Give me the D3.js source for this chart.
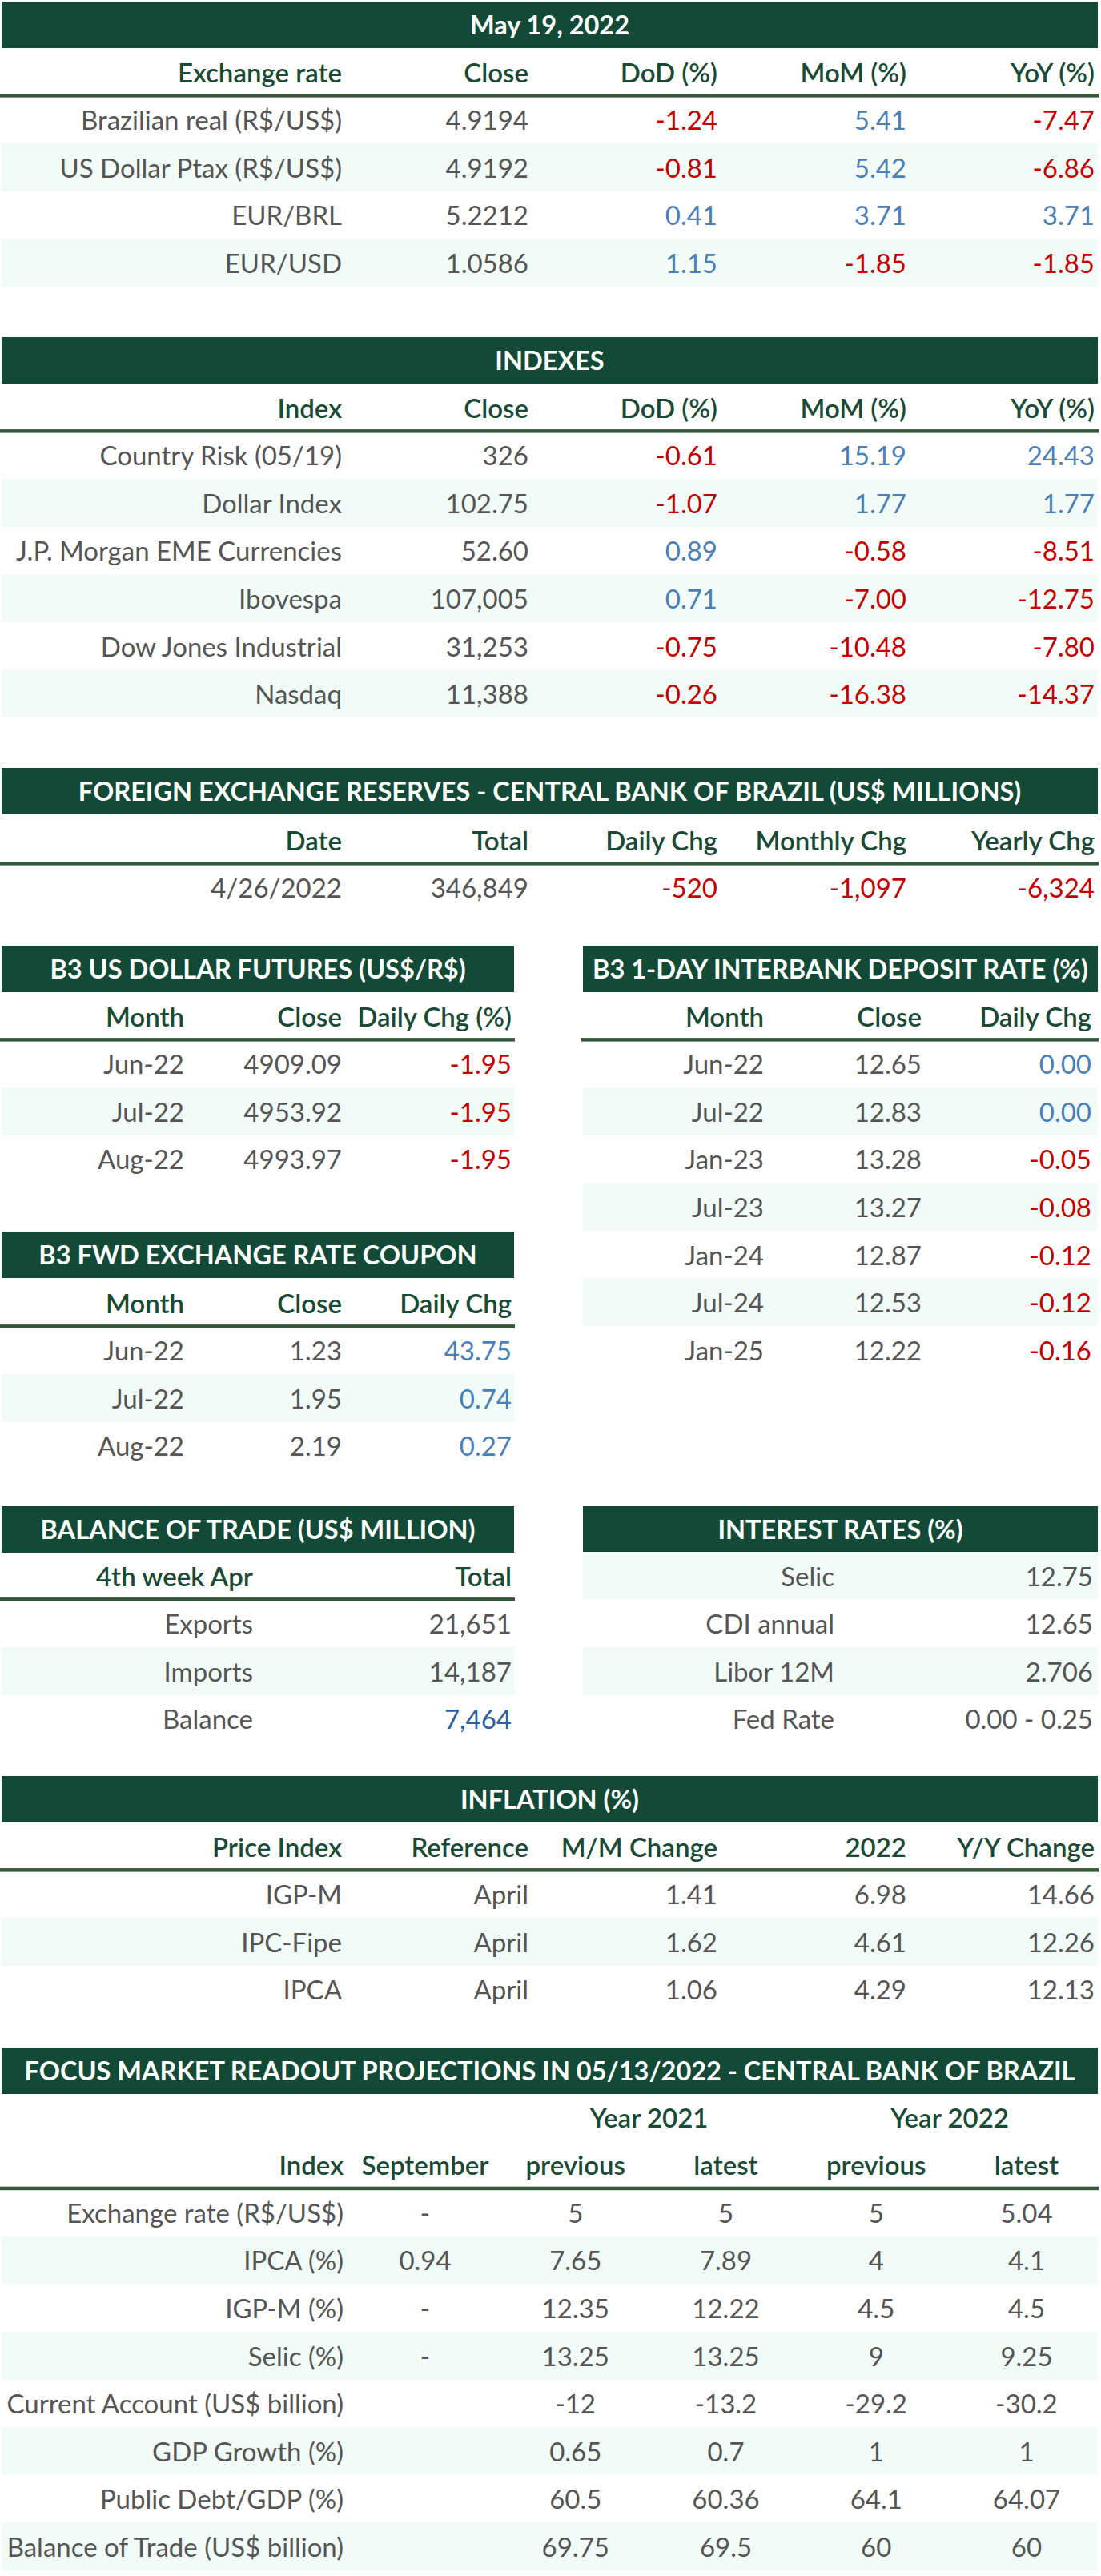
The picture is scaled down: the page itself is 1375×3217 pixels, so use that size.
<!DOCTYPE html>
<html>
<head>
<meta charset="utf-8">
<script src="https://cdn.jsdelivr.net/npm/d3@7"></script>
<style>
  body { margin: 0; background: #fff; }
  svg text { font-family: Lato, "Open Sans", sans-serif; }
</style>
</head>
<body>
<div id="chart"></div>
<script>
// ---- data ----
const reportDate = "May 19, 2022";

const exchangeCols = ["Exchange rate", "Close", "DoD (%)", "MoM (%)", "YoY (%)"];
const exchangeNames = ["Brazilian real (R$/US$)", "US Dollar Ptax (R$/US$)", "EUR/BRL", "EUR/USD"];
const exchangeClose = ["4.9194", "4.9192", "5.2212", "1.0586"];
const exchangeDoD = [-1.24, -0.81, 0.41, 1.15];
const exchangeMoM = [5.41, 5.42, 3.71, -1.85];
const exchangeYoY = [-7.47, -6.86, 3.71, -1.85];

const indexCols = ["Index", "Close", "DoD (%)", "MoM (%)", "YoY (%)"];
const indexNames = ["Country Risk (05/19)", "Dollar Index", "J.P. Morgan EME Currencies", "Ibovespa", "Dow Jones Industrial", "Nasdaq"];
const indexClose = ["326", "102.75", "52.60", "107,005", "31,253", "11,388"];
const indexDoD = [-0.61, -1.07, 0.89, 0.71, -0.75, -0.26];
const indexMoM = [15.19, 1.77, -0.58, -7.00, -10.48, -16.38];
const indexYoY = [24.43, 1.77, -8.51, -12.75, -7.80, -14.37];

const reserveCols = ["Date", "Total", "Daily Chg", "Monthly Chg", "Yearly Chg"];
const reserveDates = ["4/26/2022"];
const reserveTotal = [346849];
const reserveDaily = [-520];
const reserveMonthly = [-1097];
const reserveYearly = [-6324];

const futuresCols = ["Month", "Close", "Daily Chg (%)"];
const futuresMonths = ["Jun-22", "Jul-22", "Aug-22"];
const futuresClose = [4909.09, 4953.92, 4993.97];
const futuresChg = [-1.95, -1.95, -1.95];

const diCols = ["Month", "Close", "Daily Chg"];
const diMonths = ["Jun-22", "Jul-22", "Jan-23", "Jul-23", "Jan-24", "Jul-24", "Jan-25"];
const diClose = [12.65, 12.83, 13.28, 13.27, 12.87, 12.53, 12.22];
const diChg = [0.00, 0.00, -0.05, -0.08, -0.12, -0.12, -0.16];

const couponCols = ["Month", "Close", "Daily Chg"];
const couponMonths = ["Jun-22", "Jul-22", "Aug-22"];
const couponClose = [1.23, 1.95, 2.19];
const couponChg = [43.75, 0.74, 0.27];

const tradeCols = ["4th week Apr", "Total"];
const tradeNames = ["Exports", "Imports", "Balance"];
const tradeTotal = [21651, 14187, 7464];

const rateNames = ["Selic", "CDI annual", "Libor 12M", "Fed Rate"];
const rateValues = ["12.75", "12.65", "2.706", "0.00 - 0.25"];

const inflationCols = ["Price Index", "Reference", "M/M Change", "2022", "Y/Y Change"];
const inflationNames = ["IGP-M", "IPC-Fipe", "IPCA"];
const inflationRef = ["April", "April", "April"];
const inflationMoM = [1.41, 1.62, 1.06];
const inflationYtd = [6.98, 4.61, 4.29];
const inflationYoY = [14.66, 12.26, 12.13];

const focusYears = ["Year 2021", "Year 2022"];
const focusCols = ["Index", "September", "previous", "latest", "previous", "latest"];
const focusNames = ["Exchange rate (R$/US$)", "IPCA (%)", "IGP-M (%)", "Selic (%)", "Current Account (US$ billion)", "GDP Growth (%)", "Public Debt/GDP (%)", "Balance of Trade (US$ billion)"];
const focusSeptember = ["-", "0.94", "-", "-", "", "", "", ""];
const focusPrev2021 = ["5", "7.65", "12.35", "13.25", "-12", "0.65", "60.5", "69.75"];
const focusLatest2021 = ["5", "7.89", "12.22", "13.25", "-13.2", "0.7", "60.36", "69.5"];
const focusPrev2022 = ["5", "4", "4.5", "9", "-29.2", "1", "64.1", "60"];
const focusLatest2022 = ["5.04", "4.1", "4.5", "9.25", "-30.2", "1", "64.07", "60"];

// ---- look ----
const W = 1375, H = 3217;
const rowH = 59.6, barH = 58;
const FS = 33, TS = 32.5;
const C = {
  bar: "#134a37", head: "#1a4a36", rule: "#35583a", band: "#f1fbf7",
  text: "#555555", neg: "#c00000", pos: "#4a80b5", bal: "#2f5e9c"
};
const locale = d3.formatLocale({decimal: ".", thousands: ",", grouping: [3], currency: ["$", ""], minus: "-"});
const f2 = locale.format(".2f"), fInt = locale.format(",d");
const signColor = v => v < 0 ? C.neg : C.pos;

const svg = d3.select("#chart").append("svg")
  .attr("width", W).attr("height", H)
  .attr("viewBox", `0 0 ${W} ${H}`);

function titleBar(x0, x1, y, label) {
  svg.append("rect").attr("x", x0).attr("y", y).attr("width", x1 - x0).attr("height", barH).attr("fill", C.bar);
  svg.append("text").attr("x", (x0 + x1) / 2).attr("y", y + barH / 2).attr("dy", "0.36em")
    .attr("text-anchor", "middle").attr("fill", "#fff").attr("font-weight", 700).attr("font-size", TS)
    .text(label);
}

// one table: header labels + body columns, positioned through d3 scales
function table(opts) {
  const {x0, x1, top, cols, colX, columns, anchor, header = true, bandFirst = false} = opts;
  const n = columns[0].values.length;
  const x = d3.scaleOrdinal().domain(d3.range(cols.length)).range(colX.map(v => v + x0));
  let bodyTop = top;
  if (header) {
    const hy = d3.scaleBand().domain([0]).range([top, top + rowH]);
    svg.append("g").selectAll("text").data(cols).join("text")
      .attr("x", (d, i) => x(i)).attr("y", hy(0) + hy.bandwidth() / 2 + 1).attr("dy", "0.36em")
      .attr("text-anchor", (d, i) => anchor ? anchor[i] : "end")
      .attr("fill", C.head).attr("font-weight", 600).attr("font-size", FS).text(d => d);
    bodyTop = top + rowH;
  }
  const y = d3.scaleBand().domain(d3.range(n)).range([bodyTop, bodyTop + n * rowH]);
  svg.append("g").selectAll("rect").data(d3.range(n).filter(i => (i % 2 === 1) !== bandFirst)).join("rect")
    .attr("x", x0).attr("width", x1 - x0).attr("y", d => y(d)).attr("height", y.bandwidth()).attr("fill", C.band);
  if (header) {
    svg.append("rect").attr("x", x0 - 2).attr("width", x1 - x0 + 3).attr("y", bodyTop - 2.5).attr("height", 4.5).attr("fill", C.rule);
  }
  columns.forEach((col, ci) => {
    svg.append("g").selectAll("text").data(col.values).join("text")
      .attr("x", x(ci)).attr("y", (d, i) => y(i) + y.bandwidth() / 2 + 1).attr("dy", "0.36em")
      .attr("text-anchor", anchor ? anchor[ci] : "end")
      .attr("fill", (d, i) => col.color ? col.color(d, i) : C.text)
      .attr("font-size", FS)
      .text((d, i) => col.fmt ? col.fmt(d, i) : d);
  });
  return y;
}

const fullX = [425, 658, 894, 1130, 1365];
const halfX = [228, 425, 637];
const L0 = 2, L1 = 642, R0 = 728, R1 = 1371, F0 = 2, F1 = 1371;

// exchange rate
titleBar(F0, F1, 2, reportDate);
table({x0: F0, x1: F1, top: 60, cols: exchangeCols, colX: fullX, columns: [
  {values: exchangeNames}, {values: exchangeClose},
  {values: exchangeDoD, fmt: f2, color: signColor},
  {values: exchangeMoM, fmt: f2, color: signColor},
  {values: exchangeYoY, fmt: f2, color: signColor}
]});

// indexes
titleBar(F0, F1, 421, "INDEXES");
table({x0: F0, x1: F1, top: 479, cols: indexCols, colX: fullX, columns: [
  {values: indexNames}, {values: indexClose},
  {values: indexDoD, fmt: f2, color: signColor},
  {values: indexMoM, fmt: f2, color: signColor},
  {values: indexYoY, fmt: f2, color: signColor}
]});

// reserves
titleBar(F0, F1, 959, "FOREIGN EXCHANGE RESERVES - CENTRAL BANK OF BRAZIL (US$ MILLIONS)");
table({x0: F0, x1: F1, top: 1019, cols: reserveCols, colX: fullX, columns: [
  {values: reserveDates}, {values: reserveTotal, fmt: fInt},
  {values: reserveDaily, fmt: fInt, color: signColor},
  {values: reserveMonthly, fmt: fInt, color: signColor},
  {values: reserveYearly, fmt: fInt, color: signColor}
]});

// B3 futures & DI
titleBar(L0, L1, 1181, "B3 US DOLLAR FUTURES (US$/R$)");
table({x0: L0, x1: L1, top: 1239, cols: futuresCols, colX: halfX, columns: [
  {values: futuresMonths}, {values: futuresClose, fmt: f2},
  {values: futuresChg, fmt: f2, color: signColor}
]});
titleBar(R0, R1, 1181, "B3 1-DAY INTERBANK DEPOSIT RATE (%)");
table({x0: R0, x1: R1, top: 1239, cols: diCols, colX: halfX.map(v => v - 2), columns: [
  {values: diMonths}, {values: diClose, fmt: f2},
  {values: diChg, fmt: f2, color: signColor}
]});

// FX coupon
titleBar(L0, L1, 1538, "B3 FWD EXCHANGE RATE COUPON");
table({x0: L0, x1: L1, top: 1597, cols: couponCols, colX: halfX, columns: [
  {values: couponMonths}, {values: couponClose, fmt: f2},
  {values: couponChg, fmt: f2, color: signColor}
]});

// balance of trade & interest rates
titleBar(L0, L1, 1881, "BALANCE OF TRADE (US$ MILLION)");
table({x0: L0, x1: L1, top: 1938, cols: tradeCols, colX: [314, 637], columns: [
  {values: tradeNames},
  {values: tradeTotal, fmt: fInt, color: (d, i) => tradeNames[i] === "Balance" ? C.bal : C.text}
]});
titleBar(R0, R1, 1881, "INTEREST RATES (%)");
table({x0: R0, x1: R1, top: 1938, cols: ["", ""], colX: [314, 637], header: false, bandFirst: true, columns: [
  {values: rateNames}, {values: rateValues}
]});

// inflation
titleBar(F0, F1, 2218, "INFLATION (%)");
table({x0: F0, x1: F1, top: 2276, cols: inflationCols, colX: fullX, columns: [
  {values: inflationNames}, {values: inflationRef},
  {values: inflationMoM, fmt: f2}, {values: inflationYtd, fmt: f2}, {values: inflationYoY, fmt: f2}
]});

// focus
titleBar(F0, F1, 2557, "FOCUS MARKET READOUT PROJECTIONS IN 05/13/2022 - CENTRAL BANK OF BRAZIL");
const focusX = d3.scalePoint().domain(d3.range(1, 6)).range([529, 1280]);
const yearY = d3.scaleBand().domain([0]).range([2614, 2614 + rowH]);
svg.append("g").selectAll("text").data(focusYears).join("text")
  .attr("x", (d, i) => (focusX(2 + 2 * i) + focusX(3 + 2 * i)) / 2)
  .attr("y", yearY(0) + yearY.bandwidth() / 2 + 1).attr("dy", "0.36em")
  .attr("text-anchor", "middle").attr("fill", C.head).attr("font-weight", 600).attr("font-size", FS)
  .text(d => d);
table({x0: F0, x1: F1, top: 2614 + rowH, cols: focusCols,
  colX: [427].concat(d3.range(1, 6).map(focusX)),
  anchor: ["end", "middle", "middle", "middle", "middle", "middle"],
  columns: [
    {values: focusNames}, {values: focusSeptember},
    {values: focusPrev2021}, {values: focusLatest2021},
    {values: focusPrev2022}, {values: focusLatest2022}
  ]});
</script>
</body>
</html>
